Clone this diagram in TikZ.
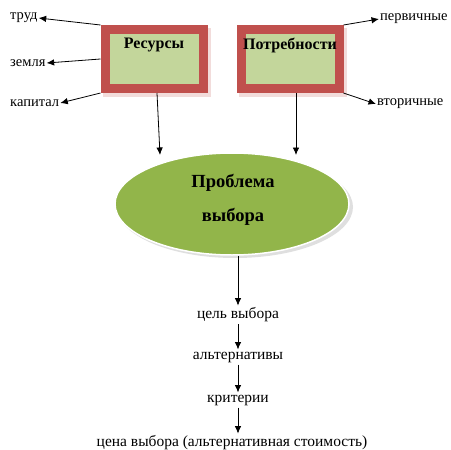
\documentclass[tikz,border=0pt]{standalone}
\usepackage{fontspec}
\setmainfont{Liberation Serif}
\usetikzlibrary{shapes.geometric,arrows.meta}
\definecolor{boxred}{HTML}{C0504D}
\definecolor{boxgreen}{HTML}{C3D69B}
\definecolor{ellgreen}{HTML}{92B54A}
\definecolor{shadowpink}{HTML}{F2DCDB}
\tikzset{
  arr/.style={-{Latex[length=7.5pt,width=6.5pt]}, line width=0.8pt},
  resbox/.style={draw=boxred, line width=9pt, fill=boxgreen, minimum width=98pt, minimum height=59pt, inner sep=0pt},
  shadowbox/.style={fill=shadowpink, minimum width=108pt, minimum height=69pt, inner sep=0pt},
  boxtext/.style={font=\bfseries\fontsize{16}{18}\selectfont},
  elltext/.style={font=\bfseries\fontsize{18.5}{20}\selectfont},
  lbl/.style={font=\fontsize{14.5}{16}\selectfont, inner sep=1pt},
  chain/.style={font=\fontsize{15.5}{17}\selectfont, inner sep=2pt},
}
\begin{document}
\begin{tikzpicture}[x=1pt,y=-1pt]
\useasboundingbox (0,0) rectangle (451,450);
% shadows
\node[shadowbox] (ressh) at (157,62) {};
\node[shadowbox] (potsh) at (293,62) {};
% boxes
\node[resbox] (res) at (154,59) {};
\node[resbox] (pot) at (290,59) {};
\node[boxtext] (restxt) at (154,45) {Ресурсы};
\node[boxtext] (pottxt) at (290,45) {Потребности};
% left labels
\node[lbl, anchor=west] (trud) at (9,18) {труд};
\node[lbl, anchor=west] (zem) at (9,63) {земля};
\node[lbl, anchor=west] (kap) at (9,103) {капитал};
% right labels
\node[lbl, anchor=west] (perv) at (379,19) {первичные};
\node[lbl, anchor=west] (vtor) at (376,104) {вторичные};
% ellipse
\node[ellipse, fill=gray!25, minimum width=236pt, minimum height=102pt] (ellsh) at (235,207) {};
\node[ellipse, draw=white, line width=1.5pt, fill=ellgreen, minimum width=234pt, minimum height=102pt, inner sep=0pt] (ell) at (232,204) {};
\node[elltext] (pr1) at (233,183) {Проблема};
\node[elltext] (pr2) at (233,217) {выбора};
% chain
\node[chain] (tsel) at (238,315) {цель выбора};
\node[chain] (alt) at (238,357) {альтернативы};
\node[chain] (krit) at (238,400) {критерии};
\node[chain] (cena) at (232,443) {цена выбора (альтернативная стоимость)};
% arrows
\draw[arr] (res.north west) -- (trud.east);
\draw[arr] (res.west) -- (zem.east);
\draw[arr] (res.south west) -- (kap.east);
\draw[arr] (pot.north east) -- (perv.west);
\draw[arr] (pot.south east) -- (vtor.west);
\coordinate (ellL) at (160,155);
\coordinate (ellR) at (296,155);
\draw[arr] (res.south) ++(3,0) -- (ellL);
\draw[arr] (pot.south) ++(6,0) -- (ellR);
\draw[arr] (tsel.north |- ell.south) -- (tsel.north);
\draw[arr] (tsel.south) -- (alt.north);
\draw[arr] (alt.south) -- (krit.north);
\draw[arr] (krit.south) -- (krit.south |- cena.north);
\end{tikzpicture}
\end{document}
